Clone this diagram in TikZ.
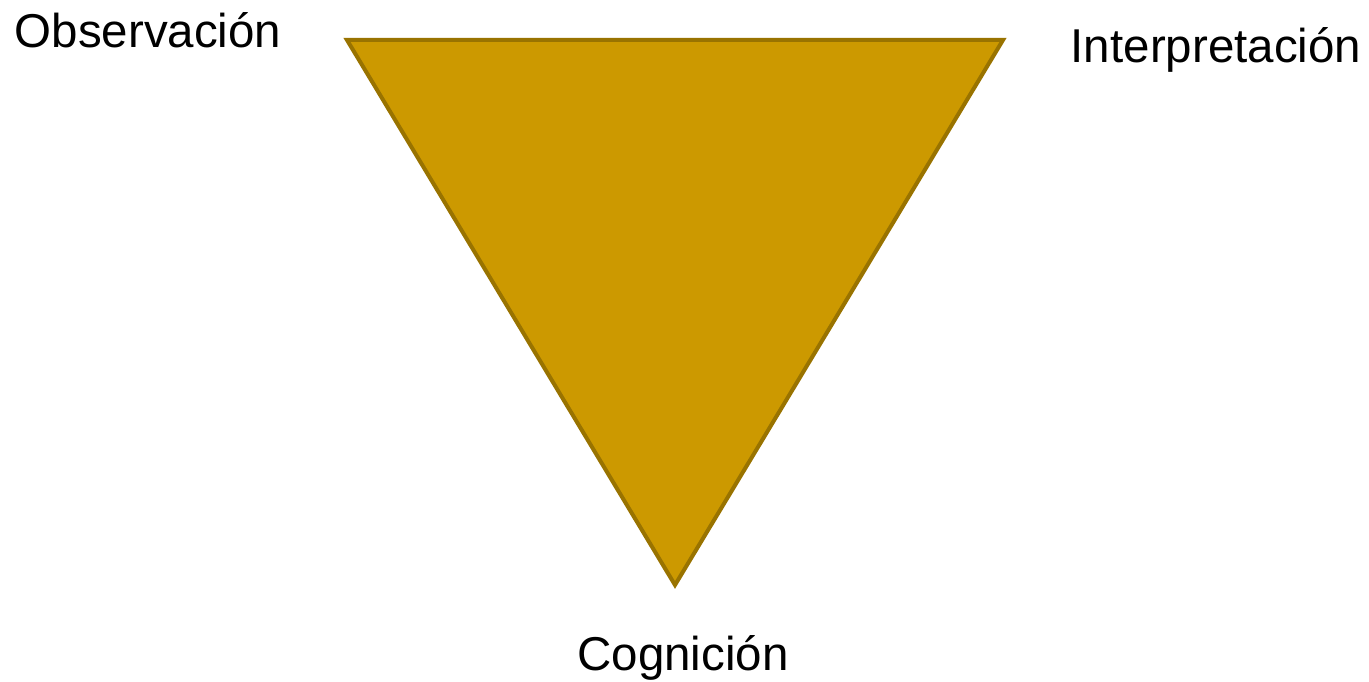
\documentclass[tikz,border=0pt]{standalone}
\usepackage{fontspec}
\setmainfont{Liberation Sans}
\usepackage{xcolor}
\usepackage{tikz}
\definecolor{gold}{HTML}{CC9900}
\definecolor{golddark}{HTML}{997300}

\begin{document}
\begin{tikzpicture}[
  x=1pt,y=-1pt,
  tri/.style={draw=golddark,fill=gold,line width=4pt,line join=miter},
  lbl/.style={anchor=base,inner sep=0pt,font=\fontsize{47.5}{57}\selectfont}
]
\useasboundingbox (0,0) rectangle (1369,682);
\coordinate (tl) at (347,40);
\coordinate (tr) at (1003,40);
\coordinate (bot) at (675,585);
\draw[tri] (tl)--(tr)--(bot)--cycle;
\node[lbl] (obs) at (148,48) {Observación};
\node[lbl] (int) at (1216,63) {Interpretación};
\node[lbl] (cog) at (683,670) {Cognición};
\end{tikzpicture}
\end{document}
